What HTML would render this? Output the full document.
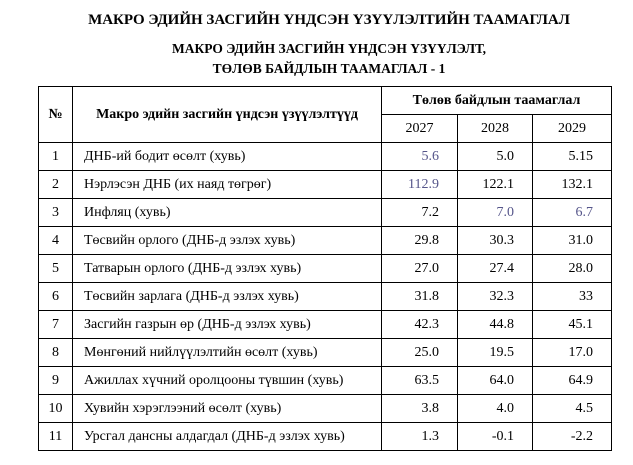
<!DOCTYPE html>
<html><head><meta charset="utf-8"><style>
body{margin:0;width:633px;height:465px;background:#fff;font-family:"Liberation Serif",serif;color:#000;position:relative;overflow:hidden}
.t{position:absolute;left:0;width:658px;text-align:center;font-weight:bold}
table{position:absolute;left:38px;top:86px;border-collapse:collapse;font-size:14px}
tr{height:28px}
td{border:1.3px solid #000;height:27px;padding:0;line-height:27px}
.n{text-align:center}
.l{padding-left:11px}
.r{text-align:right;padding-right:18px}
.b{color:#55558a}
th{border:1.3px solid #000;padding:0;font-weight:bold;font-size:14px}
</style></head><body>
<div class="t" style="top:12px;font-size:15px">МАКРО ЭДИЙН ЗАСГИЙН ҮНДСЭН ҮЗҮҮЛЭЛТИЙН ТААМАГЛАЛ</div>
<div class="t" style="top:39px;font-size:13.5px;line-height:20px">МАКРО ЭДИЙН ЗАСГИЙН ҮНДСЭН ҮЗҮҮЛЭЛТ,<br>ТӨЛӨВ БАЙДЛЫН ТААМАГЛАЛ - 1</div>
<table>
<colgroup><col style="width:34px"><col style="width:309px"><col style="width:76px"><col style="width:75px"><col style="width:79px"></colgroup>
<tr style="height:28px"><th rowspan="2">№</th><th rowspan="2">Макро эдийн засгийн үндсэн үзүүлэлтүүд</th><th colspan="3">Төлөв байдлын таамаглал</th></tr>
<tr style="height:28px"><td class="n">2027</td><td class="n">2028</td><td class="n">2029</td></tr>
<tr><td class="n">1</td><td class="l">ДНБ-ий бодит өсөлт (хувь)</td><td class="r b">5.6</td><td class="r">5.0</td><td class="r">5.15</td></tr>
<tr><td class="n">2</td><td class="l">Нэрлэсэн ДНБ (их наяд төгрөг)</td><td class="r b">112.9</td><td class="r">122.1</td><td class="r">132.1</td></tr>
<tr><td class="n">3</td><td class="l">Инфляц (хувь)</td><td class="r">7.2</td><td class="r b">7.0</td><td class="r b">6.7</td></tr>
<tr><td class="n">4</td><td class="l">Төсвийн орлого (ДНБ-д эзлэх хувь)</td><td class="r">29.8</td><td class="r">30.3</td><td class="r">31.0</td></tr>
<tr><td class="n">5</td><td class="l">Татварын орлого (ДНБ-д эзлэх хувь)</td><td class="r">27.0</td><td class="r">27.4</td><td class="r">28.0</td></tr>
<tr><td class="n">6</td><td class="l">Төсвийн зарлага (ДНБ-д эзлэх хувь)</td><td class="r">31.8</td><td class="r">32.3</td><td class="r">33</td></tr>
<tr><td class="n">7</td><td class="l">Засгийн газрын өр (ДНБ-д эзлэх хувь)</td><td class="r">42.3</td><td class="r">44.8</td><td class="r">45.1</td></tr>
<tr><td class="n">8</td><td class="l">Мөнгөний нийлүүлэлтийн өсөлт (хувь)</td><td class="r">25.0</td><td class="r">19.5</td><td class="r">17.0</td></tr>
<tr><td class="n">9</td><td class="l">Ажиллах хүчний оролцооны түвшин (хувь)</td><td class="r">63.5</td><td class="r">64.0</td><td class="r">64.9</td></tr>
<tr><td class="n">10</td><td class="l">Хувийн хэрэглээний өсөлт (хувь)</td><td class="r">3.8</td><td class="r">4.0</td><td class="r">4.5</td></tr>
<tr><td class="n">11</td><td class="l">Урсгал дансны алдагдал (ДНБ-д эзлэх хувь)</td><td class="r">1.3</td><td class="r">-0.1</td><td class="r">-2.2</td></tr>
</table>
</body></html>
